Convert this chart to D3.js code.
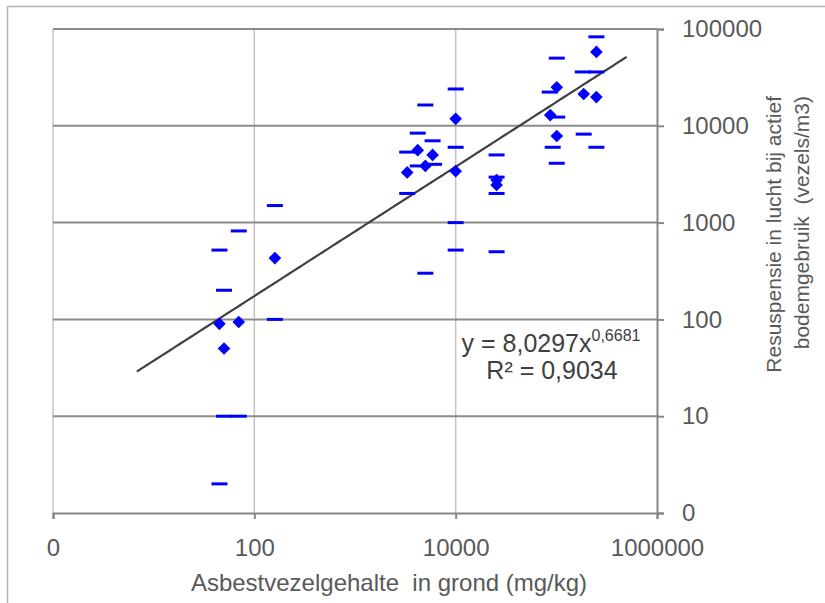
<!DOCTYPE html>
<html>
<head>
<meta charset="utf-8">
<script src="https://cdn.jsdelivr.net/npm/d3@7"></script>
<style>
  body { margin: 0; background: #fff; }
  text { font-family: "Liberation Sans", Arial, sans-serif; }
</style>
</head>
<body>
<div id="chart"></div>
<script>
var width = 825,
    height = 603;

// plot area
var plotLeft = 53, plotRight = 657, plotTop = 29, plotBottom = 513;

// tick values and labels
var xTicks = [1, 100, 10000, 1000000];
var xTickLabels = ["0", "100", "10000", "1000000"];
var yTicks = [1, 10, 100, 1000, 10000, 100000];
var yTickLabels = ["0", "10", "100", "1000", "10000", "100000"];

// mean values (diamonds)
var pointX = [45, 70, 50, 160, 3300, 4200, 5000, 5900, 10000, 10000, 25500, 25500,
              87000, 101000, 101000, 187000, 250000, 250000];
var pointY = [90, 94, 50, 430, 3300, 5600, 3850, 5000, 11800, 3400, 2750, 2450,
              12900, 25000, 7850, 21300, 58000, 19800];

// min / max values (dashes)
var dashX = [45, 45, 50, 50, 70, 70, 160, 160,
             3300, 3300, 4200, 4200, 5000, 5000, 5900, 6100,
             10000, 10000, 10000, 10000, 25500, 25500, 25500, 25500,
             250000, 101000, 183000, 250000, 86000, 102000, 187000, 92000, 250000, 101000];
var dashY = [520, 2, 200, 10, 820, 10, 1500, 100,
             5350, 2000, 8400, 3850, 16400, 300, 7000, 4000,
             24000, 6000, 1000, 520, 5000, 2950, 2000, 500,
             83000, 50000, 36000, 36000, 22300, 12300, 8200, 6000, 6000, 4100];

// power trend y = a * x^b
var trendA = 8.0297, trendB = 0.6681;
var trendRange = [6.8, 500000];

var svg = d3.select("#chart")
  .append("svg")
  .attr("width", width)
  .attr("height", height);

// outer frame
svg.append("rect")
  .attr("x", 7.5).attr("y", 6.5)
  .attr("width", 900).attr("height", 700)
  .attr("fill", "none")
  .attr("stroke", "#b4b4b4")
  .attr("stroke-width", 1.5);

var x = d3.scaleLog().domain([1, 1000000]).range([plotLeft, plotRight]);
var y = d3.scaleLog().domain([1, 100000]).range([plotBottom, plotTop]);

var g = svg.append("g");

// vertical gridlines (light)
g.selectAll(".vgrid")
  .data(xTicks.slice(0, 3))
  .enter()
  .append("line")
  .attr("class", "vgrid")
  .attr("x1", function(d) { return x(d); })
  .attr("x2", function(d) { return x(d); })
  .attr("y1", plotTop).attr("y2", plotBottom)
  .attr("stroke", "#c4c4c4")
  .attr("stroke-width", 1.5);

// horizontal gridlines (dark)
g.selectAll(".hgrid")
  .data(yTicks.slice(1))
  .enter()
  .append("line")
  .attr("class", "hgrid")
  .attr("x1", plotLeft).attr("x2", plotRight)
  .attr("y1", function(d) { return y(d); })
  .attr("y2", function(d) { return y(d); })
  .attr("stroke", "#8c8c8c")
  .attr("stroke-width", 2);

// axes
var xAxis = d3.axisBottom(x)
  .tickValues(xTicks)
  .tickSize(6)
  .tickPadding(20)
  .tickFormat(function(d, i) { return xTickLabels[i]; });

var yAxis = d3.axisRight(y)
  .tickValues(yTicks)
  .tickSize(7)
  .tickPadding(18)
  .tickFormat(function(d, i) { return yTickLabels[i]; });

var gx = svg.append("g")
  .attr("transform", "translate(0," + plotBottom + ")")
  .call(xAxis);
var gy = svg.append("g")
  .attr("transform", "translate(" + plotRight + ",0)")
  .call(yAxis);

[gx, gy].forEach(function(a) {
  a.select(".domain").attr("stroke", "#868686").attr("stroke-width", 2);
  a.selectAll(".tick line").attr("stroke", "#868686").attr("stroke-width", 2);
  a.selectAll(".tick text")
    .attr("fill", "#595959")
    .style("font-size", "24px")
    .style("font-family", "'Liberation Sans', Arial, sans-serif");
});

// trendline
var trendPts = d3.range(0, 101).map(function(i) {
  var lx = Math.log10(trendRange[0]) + i / 100 * (Math.log10(trendRange[1]) - Math.log10(trendRange[0]));
  var xv = Math.pow(10, lx);
  return [xv, trendA * Math.pow(xv, trendB)];
});
g.append("path")
  .datum(trendPts)
  .attr("fill", "none")
  .attr("stroke", "#404040")
  .attr("stroke-width", 2.2)
  .attr("d", d3.line()
    .x(function(d) { return x(d[0]); })
    .y(function(d) { return y(d[1]); }));

// dashes
g.selectAll(".dash")
  .data(dashX)
  .enter()
  .append("line")
  .attr("class", "dash")
  .attr("x1", function(d) { return x(d) - 8; })
  .attr("x2", function(d) { return x(d) + 8; })
  .attr("y1", function(d, i) { return y(dashY[i]); })
  .attr("y2", function(d, i) { return y(dashY[i]); })
  .attr("stroke", "#0000ff")
  .attr("stroke-width", 3);

// diamonds
g.selectAll(".pt")
  .data(pointX)
  .enter()
  .append("path")
  .attr("class", "pt")
  .attr("d", d3.symbol().type(d3.symbolSquare).size(80))
  .attr("transform", function(d, i) {
    return "translate(" + x(d) + "," + y(pointY[i]) + ") rotate(45)";
  })
  .attr("fill", "#0000ff");

// equation
var eq = svg.append("text")
  .attr("x", 551).attr("y", 352)
  .attr("text-anchor", "middle")
  .attr("fill", "#404040")
  .style("font-size", "25px");
eq.append("tspan").text("y = 8,0297x");
eq.append("tspan").attr("dy", -11).style("font-size", "16px").text("0,6681");

svg.append("text")
  .attr("x", 552).attr("y", 379)
  .attr("text-anchor", "middle")
  .attr("fill", "#404040")
  .style("font-size", "25px")
  .text("R² = 0,9034");

// axis titles
svg.append("text")
  .attr("x", 389).attr("y", 591)
  .attr("text-anchor", "middle")
  .attr("fill", "#595959")
  .style("font-size", "24px")
  .style("white-space", "pre")
  .text("Asbestvezelgehalte  in grond (mg/kg)");

var yt = svg.append("text")
  .attr("transform", "translate(781,96) rotate(-90)")
  .attr("text-anchor", "end")
  .attr("fill", "#595959")
  .style("font-size", "21px")
  .style("white-space", "pre");
yt.append("tspan").attr("x", 0).attr("y", 0).text("Resuspensie in lucht bij actief");
yt.append("tspan").attr("x", 0).attr("y", 28).text("bodemgebruik  (vezels/m3)");
</script>
</body>
</html>
